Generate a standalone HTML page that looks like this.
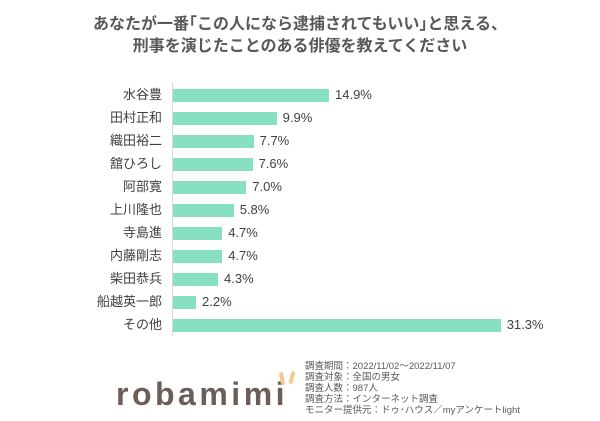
<!DOCTYPE html><html><head><meta charset="utf-8"><style>
body{margin:0;width:600px;height:421px;background:#fff;font-family:"Liberation Sans","Noto Sans CJK JP",sans-serif;position:relative;overflow:hidden;color:#404040}
.t{position:absolute;left:0;width:600px;text-align:center;font-weight:bold;font-size:16px;color:#595959}
.l{position:absolute;right:438px;font-size:13px;line-height:14px;text-align:right;white-space:nowrap}
.b{position:absolute;left:173px;height:13px;background:#88e0c2}
.v{position:absolute;font-size:13px;line-height:14px}
.n{position:absolute;left:305px;font-size:9.5px;line-height:11.5px;color:#595959;white-space:nowrap}
</style></head><body>
<div class="t" style="top:10px">あなたが一番｢この人になら逮捕されてもいい｣と思える、</div>
<div class="t" style="top:32px">刑事を演じたことのある俳優を教えてください</div>
<div style="position:absolute;left:172px;top:82px;width:1px;height:254px;background:#d9d9d9"></div>
<div id="c"></div>
<script>
var d=[["水谷豊",14.9],["田村正和",9.9],["織田裕二",7.7],["舘ひろし",7.6],["阿部寛",7.0],["上川隆也",5.8],["寺島進",4.7],["内藤剛志",4.7],["柴田恭兵",4.3],["船越英一郎",2.2],["その他",31.3]];
var h="";d.forEach(function(r,i){var y=95+i*23,w=r[1]*10.47;
h+='<div class="l" style="top:'+(y-7)+'px">'+r[0]+'</div><div class="b" style="top:'+(y-6)+'px;width:'+w+'px"></div><div class="v" style="top:'+(y-7)+'px;left:'+(173+w+6)+'px">'+r[1].toFixed(1)+'%</div>';});
document.getElementById("c").innerHTML=h;
</script>
<div style="position:absolute;left:116px;top:376px;font-size:32px;letter-spacing:3.5px;color:#6b5e58;font-weight:bold">robamimi</div>
<div style="position:absolute;left:280px;top:372px;width:4px;height:13px;background:#f5c890;border-radius:3px;transform:rotate(-10deg)"></div>
<div style="position:absolute;left:290px;top:371px;width:4px;height:13px;background:#f5c890;border-radius:3px;transform:rotate(15deg)"></div>
<div class="n" style="top:361px">調査期間：2022/11/02～2022/11/07</div>
<div class="n" style="top:372px">調査対象：全国の男女</div>
<div class="n" style="top:383px">調査人数：987人</div>
<div class="n" style="top:394px">調査方法：インターネット調査</div>
<div class="n" style="top:405px">モニター提供元：ドゥ･ハウス／myアンケートlight</div>
</body></html>
